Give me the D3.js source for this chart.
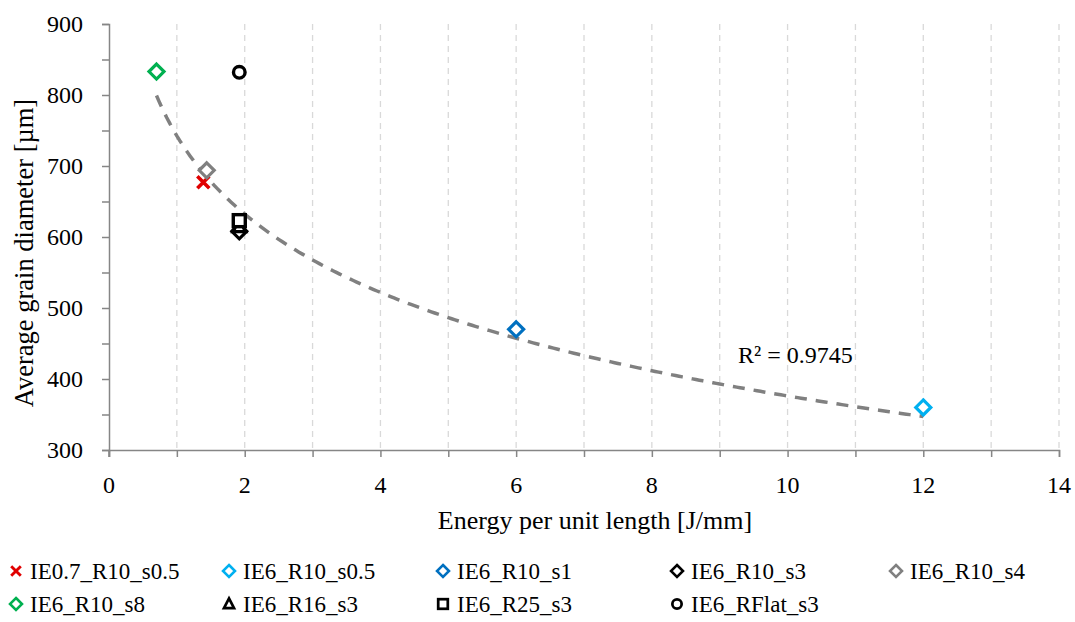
<!DOCTYPE html>
<html>
<head>
<meta charset="utf-8">
<script src="https://cdn.jsdelivr.net/npm/d3@7"></script>
<style>
  body { margin: 0; background: #fff; font-family: 'Liberation Serif', Tinos, 'Times New Roman', serif; }
  #wrap { position: relative; width: 1075px; height: 622px; }
  svg { display: block; position: absolute; left: 0; top: 0; }
  .lbl { position: absolute; white-space: nowrap; line-height: normal; color: #000;
         font-family: 'Liberation Serif', Tinos, 'Times New Roman', serif; }
</style>
</head>
<body>
<div id="wrap"><svg id="chart" width="1075" height="622"></svg></div>
<script>
// ---- data ----
const seriesNames = ["IE0.7_R10_s0.5", "IE6_R10_s0.5", "IE6_R10_s1", "IE6_R10_s3", "IE6_R10_s4",
                     "IE6_R10_s8", "IE6_R16_s3", "IE6_R25_s3", "IE6_RFlat_s3"];
const seriesX = [1.39, 12.0, 6.0, 1.92, 1.44, 0.70, 1.92, 1.92, 1.92];
const seriesY = [677, 360, 470, 608, 694, 833, 615, 623, 832];
const seriesShape = ["cross", "diamond", "diamond", "diamond", "diamond", "diamond", "triangle", "square", "circle"];
const seriesColor = ["#e00000", "#00b0f0", "#0070c0", "#000000", "#808080", "#00b050", "#000000", "#000000", "#000000"];
const xTicks = [0, 2, 4, 6, 8, 10, 12, 14];
const yTicks = [300, 400, 500, 600, 700, 800, 900];
// logarithmic trendline y = a*ln(x) + b, R² label
const trendCoef = [-159.1, 742.5];
const trendRange = [0.70, 12.0];
const r2Label = "R² = 0.9745";
const xTitle = "Energy per unit length [J/mm]";
const yTitle = "Average grain diameter [µm]";

const FONT = "'Liberation Serif', Tinos, 'Times New Roman', serif";

const wrap = d3.select("#wrap");
const svg = d3.select("#chart");
const L = 109, R = 1059, T = 24, B = 450;
const x = d3.scaleLinear().domain([0, 14]).range([L, R]);
const y = d3.scaleLinear().domain([300, 900]).range([B, T]);
const axisColor = "#868686";

// HTML text placed by its baseline
function htmlText(str, px, baseY, size, anchor) {
  const tx = anchor === "middle" ? "translateX(-50%)" : anchor === "end" ? "translateX(-100%)" : "none";
  return wrap.append("div").attr("class", "lbl")
    .style("left", px + "px")
    .style("top", (baseY - 0.891 * size) + "px")
    .style("font-size", size + "px")
    .style("transform", tx)
    .text(str);
}
function svgText(str, px, py, size, anchor, rot) {
  return svg.append("text")
    .attr("transform", `translate(${px},${py})` + (rot ? ` rotate(${rot})` : ""))
    .attr("text-anchor", anchor || "start").attr("fill", "#000")
    .style("font-family", FONT).style("font-size", size + "px")
    .text(str);
}

// vertical dashed gridlines at each integer
svg.append("g").selectAll("line")
  .data(d3.range(1, 15))
  .join("line")
  .attr("x1", d => x(d)).attr("x2", d => x(d))
  .attr("y1", T).attr("y2", B)
  .attr("stroke", "#d9d9d9").attr("stroke-width", 1.3)
  .attr("stroke-dasharray", "6,5");

// x axis (lines); labels as text
const gx = svg.append("g").attr("transform", `translate(0,${B})`)
  .call(d3.axisBottom(x).tickValues(d3.range(0, 15)).tickSize(7).tickFormat(""));
gx.select(".domain").attr("stroke", axisColor).attr("stroke-width", 1.5);
gx.selectAll(".tick line").attr("stroke", axisColor).attr("stroke-width", 1.5);
xTicks.forEach(v => htmlText(String(v), x(v), B + 43, 24, "middle"));

// y axis
const gy = svg.append("g").attr("transform", `translate(${L},0)`)
  .call(d3.axisLeft(y).tickValues(d3.range(300, 901, 50)).tickSize(7).tickFormat(""));
gy.select(".domain").attr("stroke", axisColor).attr("stroke-width", 1.5);
gy.selectAll(".tick line").attr("stroke", axisColor).attr("stroke-width", 1.5);
yTicks.forEach(v => htmlText(String(v), L - 26, y(v) + 8, 24, "end"));
// small crossing below x-axis at origin
svg.append("line").attr("x1", L).attr("x2", L).attr("y1", B).attr("y2", B + 7)
  .attr("stroke", axisColor).attr("stroke-width", 1.5);

// axis titles
svgText(xTitle, 595, 529, 26, "middle");
svgText(yTitle, 33, 253, 26.5, "middle", -90);

// trendline
const trendData = d3.range(trendRange[0], trendRange[1] + 1e-9, 0.05)
  .concat([trendRange[1]])
  .map(v => [v, trendCoef[0] * Math.log(v) + trendCoef[1]]);
svg.append("path").datum(trendData)
  .attr("d", d3.line().x(d => x(d[0])).y(d => y(d[1])))
  .attr("fill", "none").attr("stroke", "#808080").attr("stroke-width", 3.5)
  .attr("stroke-dasharray", "12,9");

htmlText(r2Label, 738, 363, 24, "start");

// markers
function drawMarker(g, shape, color, cx, cy, s) {
  s = s || 1;
  if (shape === "diamond") {
    const r = 7.5 * s;
    g.append("path").attr("d", `M${cx},${cy - r}L${cx + r},${cy}L${cx},${cy + r}L${cx - r},${cy}Z`)
      .attr("fill", "#fff").attr("stroke", color).attr("stroke-width", 3.2 * s);
  } else if (shape === "circle") {
    g.append("circle").attr("cx", cx).attr("cy", cy).attr("r", 5.8 * s)
      .attr("fill", "#fff").attr("stroke", color).attr("stroke-width", 3.4 * s);
  } else if (shape === "square") {
    const r = 6 * s;
    g.append("rect").attr("x", cx - r).attr("y", cy - r).attr("width", 2 * r).attr("height", 2 * r)
      .attr("fill", "#fff").attr("stroke", color).attr("stroke-width", 3.4 * s);
  } else if (shape === "triangle") {
    const r = 7 * s;
    g.append("path").attr("d", `M${cx},${cy - r}L${cx + r * 0.9},${cy + r * 0.75}L${cx - r * 0.9},${cy + r * 0.75}Z`)
      .attr("fill", "#fff").attr("stroke", color).attr("stroke-width", 3.4 * s).attr("stroke-linejoin", "miter");
  } else if (shape === "cross") {
    const r = 6 * s;
    g.append("path").attr("d", `M${cx - r},${cy - r}L${cx + r},${cy + r}M${cx - r},${cy + r}L${cx + r},${cy - r}`)
      .attr("stroke", color).attr("stroke-width", 3.6 * s).attr("fill", "none");
  }
}

const gm = svg.append("g");
seriesNames.forEach((n, i) => {
  drawMarker(gm, seriesShape[i], seriesColor[i], x(seriesX[i]), y(seriesY[i]));
});

// legend
const legCols = [16, 229, 443, 677, 896];
const legRows = [571, 604];
const gl = svg.append("g");
seriesNames.forEach((n, i) => {
  const col = i % 5, row = Math.floor(i / 5);
  const lx = legCols[col], ly = legRows[row];
  drawMarker(gl, seriesShape[i], seriesColor[i], lx, ly, 0.8);
  htmlText(n, lx + 14, ly + 8, 23, "start");
});
</script>
</body>
</html>
